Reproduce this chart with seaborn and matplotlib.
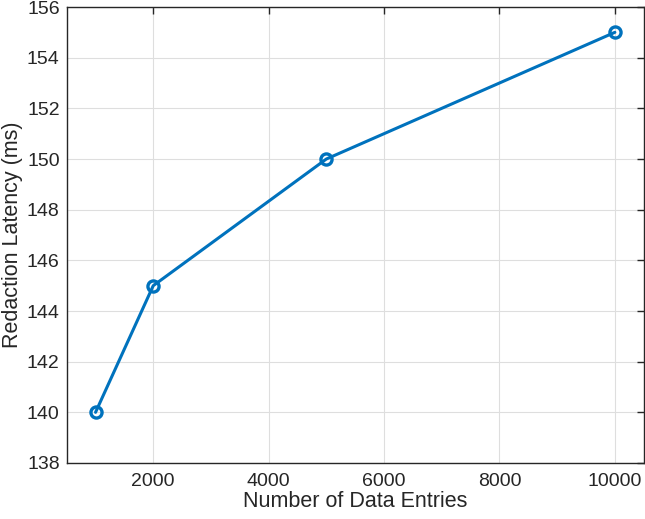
import matplotlib
matplotlib.use("Agg")
import matplotlib.pyplot as plt
import seaborn as sns
import pandas as pd

# data
entries = [1000, 2000, 5000, 10000]
latency = [140, 145, 150, 155]

df = pd.DataFrame({"entries": entries, "latency": latency})

sns.set_style("white")
plt.rcParams['font.family'] = ['Liberation Sans', 'DejaVu Sans']

fig = plt.figure(figsize=(6.45, 5.19), dpi=100)
ax = fig.add_axes([0.1034, 0.1079, 0.8946, 0.8786])

sns.lineplot(data=df, x="entries", y="latency", ax=ax, color="#0072BD",
             linewidth=2.2, marker="o", markersize=8, markerfacecolor="none",
             markeredgecolor="#0072BD", markeredgewidth=2.4)

ax.set_xlim(500, 10500)
ax.set_ylim(138, 156)
ax.set_xticks([2000, 4000, 6000, 8000, 10000])
ax.set_yticks(range(138, 157, 2))
ax.grid(True, color="#dedede", linewidth=0.8)
ax.set_axisbelow(True)

for s in ax.spines.values():
    s.set_visible(True)
    s.set_color("#262626")
    s.set_linewidth(1.0)

ax.tick_params(direction="in", top=True, right=True, length=5, width=1,
               color="#262626", labelsize=14, labelcolor="#262626")
ax.tick_params(axis="x", pad=7)
ax.tick_params(axis="y", pad=5)
ax.set_xlabel("Number of Data Entries", fontsize=15.5, color="#262626", labelpad=1)
ax.set_ylabel("Redaction Latency (ms)", fontsize=15.5, color="#262626", labelpad=3)

fig.savefig("out.png", dpi=100)
